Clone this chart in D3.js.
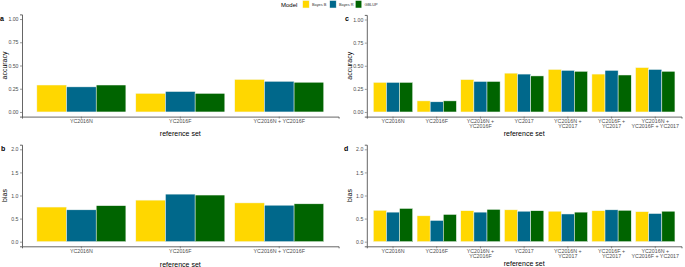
<!DOCTYPE html>
<html>
<head>
<meta charset="utf-8">
<script src="https://cdn.jsdelivr.net/npm/d3@7"></script>
<style>
  body { margin: 0; background: #fff; }
  svg { font-family: "Liberation Sans", Arial, sans-serif; }
</style>
</head>
<body>
<div id="chart"></div>
<script>
const models = ["Bayes B", "Bayes R", "GBLUP"];
const modelColors = ["#FFD700", "#00688B", "#006400"];

// panels a and b
const setsSmall = ["YC2016N", "YC2016F", "YC2016N + YC2016F"];
// panels c and d
const setsLarge = ["YC2016N", "YC2016F", "YC2016N +\nYC2016F", "YC2017",
  "YC2016N +\nYC2017", "YC2016F +\nYC2017", "YC2016N +\nYC2016F + YC2017"];

const accuracySmall = {
  "Bayes B": [0.29, 0.20, 0.35],
  "Bayes R": [0.27, 0.22, 0.33],
  "GBLUP":   [0.29, 0.20, 0.32]
};
const biasSmall = {
  "Bayes B": [0.75, 0.90, 0.84],
  "Bayes R": [0.69, 1.03, 0.79],
  "GBLUP":   [0.78, 1.01, 0.82]
};
const accuracyLarge = {
  "Bayes B": [0.32, 0.12, 0.35, 0.42, 0.46, 0.41, 0.48],
  "Bayes R": [0.32, 0.11, 0.33, 0.41, 0.45, 0.45, 0.46],
  "GBLUP":   [0.32, 0.12, 0.33, 0.39, 0.44, 0.40, 0.44]
};
const biasLarge = {
  "Bayes B": [0.68, 0.56, 0.67, 0.69, 0.66, 0.67, 0.65],
  "Bayes R": [0.64, 0.46, 0.64, 0.66, 0.60, 0.69, 0.61],
  "GBLUP":   [0.72, 0.59, 0.70, 0.67, 0.64, 0.68, 0.66]
};

const accTicks = [0, 0.25, 0.5, 0.75, 1];
const biasTicks = [0, 0.5, 1, 1.5, 2];

const svg = d3.select("#chart").append("svg")
  .attr("width", 685)
  .attr("height", 267);

const color = d3.scaleOrdinal(models, modelColors);

function drawPanel(p) {
  const g = svg.append("g");

  const x = d3.scaleBand()
    .domain(p.cats)
    .range([p.x0, p.x1])
    .paddingInner(0.1)
    .paddingOuter(0.15);

  const xm = d3.scaleBand()
    .domain(models)
    .range([0, x.bandwidth()]);

  const y = d3.scaleLinear()
    .domain([-p.yMax * 0.05, p.yMax * 1.05])
    .range([p.y1, p.y0]);

  // bars
  models.forEach(m => {
    g.selectAll(null)
      .data(p.cats.map((c, i) => ({ cat: c, v: p.values[m][i] })))
      .enter().append("rect")
      .attr("x", d => x(d.cat) + xm(m))
      .attr("y", d => y(d.v))
      .attr("width", xm.bandwidth())
      .attr("height", d => y(0) - y(d.v))
      .attr("fill", color(m))
      .attr("stroke", "#f4f8f4")
      .attr("stroke-width", 0.5);
  });

  // y axis
  const yAxis = d3.axisLeft(y)
    .tickValues(p.ticks)
    .tickFormat(p.fmt)
    .tickSize(2)
    .tickPadding(1.5);
  const ya = g.append("g")
    .attr("transform", `translate(${p.x0},0)`)
    .call(yAxis);
  ya.select(".domain").attr("stroke", "#555").attr("stroke-width", 0.9);
  ya.selectAll(".tick line").attr("stroke", "#555").attr("stroke-width", 0.6);
  ya.selectAll(".tick text")
    .attr("font-size", 5.2)
    .attr("fill", "#4D4D4D")
    .attr("font-family", "Liberation Sans, Arial, sans-serif");

  // x axis
  const xAxis = d3.axisBottom(x).tickSize(2).tickFormat("");
  const xa = g.append("g")
    .attr("transform", `translate(0,${p.y1})`)
    .call(xAxis);
  xa.select(".domain").attr("stroke", "#555").attr("stroke-width", 0.9);
  xa.selectAll(".tick line").attr("stroke", "#555").attr("stroke-width", 0.6);

  const labels = g.append("g")
    .selectAll("text")
    .data(p.cats)
    .enter().append("text")
    .attr("x", d => x(d) + x.bandwidth() / 2)
    .attr("y", p.y1 + 6.3)
    .attr("text-anchor", "middle")
    .attr("font-size", 5.3)
    .attr("fill", "#4D4D4D");
  labels.each(function (d) {
    const lines = d.split("\n");
    d3.select(this).selectAll("tspan")
      .data(lines)
      .enter().append("tspan")
      .attr("x", x(d) + x.bandwidth() / 2)
      .attr("dy", (l, i) => i === 0 ? 0 : 5)
      .text(l => l);
  });

  // axis titles
  g.append("text")
    .attr("x", (p.x0 + p.x1) / 2)
    .attr("y", p.xTitleY)
    .attr("text-anchor", "middle")
    .attr("font-size", 7)
    .text("reference set");

  g.append("text")
    .attr("transform", `translate(${p.x0 - 15},${(p.y0 + p.y1) / 2}) rotate(-90)`)
    .attr("text-anchor", "middle")
    .attr("font-size", 7)
    .text(p.yTitle);

  // panel tag
  g.append("text")
    .attr("x", p.tagX)
    .attr("y", p.tagY)
    .attr("font-size", 7)
    .attr("font-weight", "bold")
    .text(p.tag);
}

drawPanel({ tag: "a", tagX: 0, tagY: 21, cats: setsSmall, values: accuracySmall,
  x0: 22, x1: 338.6, y0: 14.4, y1: 116.6, yMax: 1, ticks: accTicks,
  fmt: d3.format(".2f"), yTitle: "accuracy", xTitleY: 136 });
drawPanel({ tag: "b", tagX: 1, tagY: 151, cats: setsSmall, values: biasSmall,
  x0: 22, x1: 338.6, y0: 144.7, y1: 246.3, yMax: 2, ticks: biasTicks,
  fmt: d3.format(".1f"), yTitle: "bias", xTitleY: 266.5 });
drawPanel({ tag: "c", tagX: 345, tagY: 21, cats: setsLarge, values: accuracyLarge,
  x0: 366.8, x1: 681.5, y0: 14.9, y1: 116.6, yMax: 1, ticks: accTicks,
  fmt: d3.format(".2f"), yTitle: "accuracy", xTitleY: 136 });
drawPanel({ tag: "d", tagX: 344, tagY: 151, cats: setsLarge, values: biasLarge,
  x0: 366.8, x1: 681.5, y0: 144.7, y1: 246.3, yMax: 2, ticks: biasTicks,
  fmt: d3.format(".1f"), yTitle: "bias", xTitleY: 265.5 });

// legend
const legend = svg.append("g");
legend.append("text")
  .attr("x", 281)
  .attr("y", 6.8)
  .attr("font-size", 6)
  .text("Model");
const legendX = [302.7, 329.7, 355.3];
models.forEach((m, i) => {
  legend.append("rect")
    .attr("x", legendX[i])
    .attr("y", 0.5)
    .attr("width", 6.5)
    .attr("height", 7.5)
    .attr("fill", color(m))
    .attr("stroke", "#f4f8f4")
    .attr("stroke-width", 0.5);
  legend.append("text")
    .attr("x", legendX[i] + 9.2)
    .attr("y", 5.8)
    .attr("font-size", 3.9)
    .attr("fill", "#333")
    .text(m);
});
</script>
</body>
</html>
